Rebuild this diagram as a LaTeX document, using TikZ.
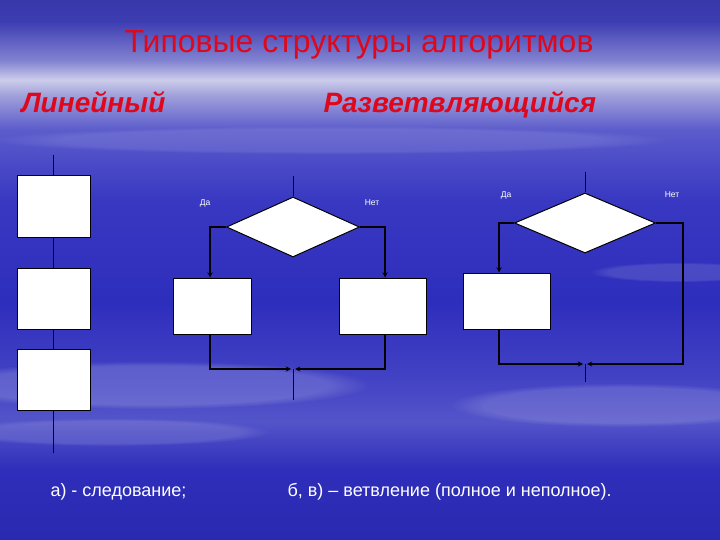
\documentclass[tikz,border=0pt]{standalone}
\usepackage{fontspec}
\setmainfont{Liberation Sans}
\usetikzlibrary{arrows, positioning, shapes, calc, fadings}

\definecolor{headred}{RGB}{222,8,28}
\pgfdeclareverticalshading{sky}{100bp}{%
  rgb(0bp)=(0.16,0.16,0.69); rgb(25bp)=(0.16,0.16,0.69);
  rgb(31.5bp)=(0.18,0.18,0.73); rgb(36bp)=(0.33,0.33,0.79);
  rgb(40bp)=(0.26,0.26,0.77); rgb(47bp)=(0.18,0.18,0.74);
  rgb(56.5bp)=(0.22,0.22,0.76); rgb(63bp)=(0.36,0.36,0.80);
  rgb(66.2bp)=(0.63,0.63,0.86); rgb(67.6bp)=(0.80,0.80,0.92);
  rgb(69.4bp)=(0.51,0.51,0.82); rgb(73bp)=(0.24,0.24,0.70);
  rgb(75bp)=(0.22,0.22,0.67); rgb(100bp)=(0.22,0.22,0.67)}

\begin{document}
\begin{tikzpicture}[
    x = 1pt, y = -1pt, % pixel units, y going down
    > = stealth, % arrow head style
    line width = 1pt % line style
    ]

    \tikzset{block/.style={draw = black, fill = white, inner sep = 0pt}}
    \tikzset{decision/.style={diamond, aspect = 2.2, draw = black, fill = white, inner sep = 0pt}}
    \tikzset{heading/.style={text = headred, inner sep = 0pt}}
    \tikzset{subheading/.style={heading, anchor = base west, font = \fontsize{28}{30}\selectfont\bfseries\itshape}}
    \tikzset{yesno/.style={text = white, font = \fontsize{8.5}{10}\selectfont, inner sep = 0pt}}
    \tikzset{caption/.style={text = white, anchor = west, inner sep = 0pt, font = \fontsize{18}{20}\selectfont}}
    \tikzset{cloud/.style={white, path fading = circle with fuzzy edge 20 percent}}

    % background sky
    \useasboundingbox (0,0) rectangle (720,540);
    \clip (0,0) rectangle (720,540);
    \shade[shading = sky] (0,0) rectangle (720,540);
    \fill[cloud, opacity = 0.16] (150,385) ellipse [x radius = 220, y radius = 24];
    \fill[cloud, opacity = 0.12] (110,432) ellipse [x radius = 160, y radius = 14];
    \fill[cloud, opacity = 0.14] (620,405) ellipse [x radius = 170, y radius = 22];
    \fill[cloud, opacity = 0.10] (330,140) ellipse [x radius = 340, y radius = 14];
    \fill[cloud, opacity = 0.12] (680,272) ellipse [x radius = 90, y radius = 10];

    % headings
    \node[heading, font = \fontsize{32}{34}\selectfont] (title) at (359,45) {Типовые структуры алгоритмов};
    \node[subheading] (lin) at (21,113) {Линейный};
    \node[subheading] (razv) at (323,113) {Разветвляющийся};

    % linear
    \coordinate (ltop) at (53.5,155);
    \node[block, minimum width = 73pt, minimum height = 61pt] (l1) at (53.5,206.5) {};
    \node[block, minimum width = 73pt, minimum height = 61pt] (l2) at (53.5,298.5) {};
    \node[block, minimum width = 73pt, minimum height = 61pt] (l3) at (53.5,379.5) {};
    \coordinate (lbot) at (53.5,453);
    \draw (ltop) -- (l1) -- (l2) -- (l3) -- (lbot);

    % full branching
    \coordinate (ptop) at (293,176);
    \node[decision, minimum width = 133pt, minimum height = 60pt] (pd) at (293,227) {};
    \node[block, minimum width = 78pt, minimum height = 56pt] (pa) at (212,306) {};
    \node[block, minimum width = 87pt, minimum height = 56pt] (pb) at (382.5,306) {};
    \coordinate (pm) at (293,369);
    \coordinate (pend) at (293,400);
    \node[yesno] (pyes) at (205,203) {Да};
    \node[yesno] (pno) at (372,203) {Нет};

    \draw (ptop) -- (pd);
    \draw[->, line width = 1.3pt] (pd.west) -| ([xshift = -2pt]pa.north);
    \draw[->, line width = 1.3pt] (pd.east) -| ([xshift = 2.5pt]pb.north);
    \draw[->, line width = 1.3pt] ([xshift = -2pt]pa.south) |- ([xshift = -2pt]pm);
    \draw[->, line width = 1.3pt] ([xshift = 2.5pt]pb.south) |- ([xshift = 2pt]pm);
    \draw (pm) -- (pend);

    % incomplete branching
    \coordinate (ntop) at (585,172);
    \node[decision, minimum width = 141pt, minimum height = 60pt] (nd) at (585,223) {};
    \node[block, minimum width = 87pt, minimum height = 56pt] (na) at (506.5,301) {};
    \coordinate (nr) at (683,364);
    \coordinate (nm) at (585,364);
    \coordinate (nend) at (585,382);
    \node[yesno] (nyes) at (506,195) {Да};
    \node[yesno] (nno) at (672,195) {Нет};

    \draw (ntop) -- (nd);
    \draw[->, line width = 1.3pt] (nd.west) -| ([xshift = -7.5pt]na.north);
    \draw[->, line width = 1.3pt] ([xshift = -7.5pt]na.south) |- ([xshift = -2pt]nm);
    \draw[->, line width = 1.3pt] (nd.east) -| (nr) -- ([xshift = 2pt]nm);
    \draw (nm) -- (nend);

    % captions
    \node[caption] (capa) at (50,492) {а) - следование;};
    \node[caption] (capb) at (287,492) {б, в) – ветвление (полное и неполное).};

\end{tikzpicture}
\end{document}
